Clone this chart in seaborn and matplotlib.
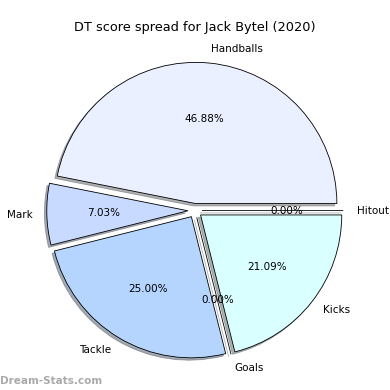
import matplotlib
matplotlib.use("Agg")
import matplotlib.pyplot as plt
import seaborn as sns

sns.set_theme(style="white")
plt.rcParams['font.family'] = ['DejaVu Sans']
plt.rcParams['text.color'] = 'black'

categories = ["Handballs", "Mark", "Tackle", "Goals", "Kicks", "Hitout"]
values = [60, 9, 32, 0, 27, 0]
colors = ["#eaf0ff", "#c8daff", "#b5d5ff", "#e6f5ff", "#d9ffff", "#f0f8ff"]
explode = [0.05] * 6

fig = plt.figure(figsize=(3.9, 3.9), dpi=100)
ax = fig.add_axes([0.0475, 0.0075, 0.905, 0.905])
wedges, texts, autotexts = ax.pie(values, labels=categories, colors=colors, explode=explode,
       autopct="%1.2f%%", startangle=0, counterclock=True,
       shadow={'ox': -0.012, 'oy': -0.012, 'shade': 0.6},
       wedgeprops=dict(edgecolor="black", linewidth=0.6),
       textprops=dict(fontsize=7.5, color="black"))
ax.set_aspect("equal")
fig.suptitle("DT score spread for Jack Bytel (2020)", fontsize=9.3, y=0.945, color="black")
fig.text(0.0, 0.015, "Dream-Stats.com", fontsize=7.5, color="#aaaaaa", fontweight="bold")
fig.savefig("out.png", dpi=100)
